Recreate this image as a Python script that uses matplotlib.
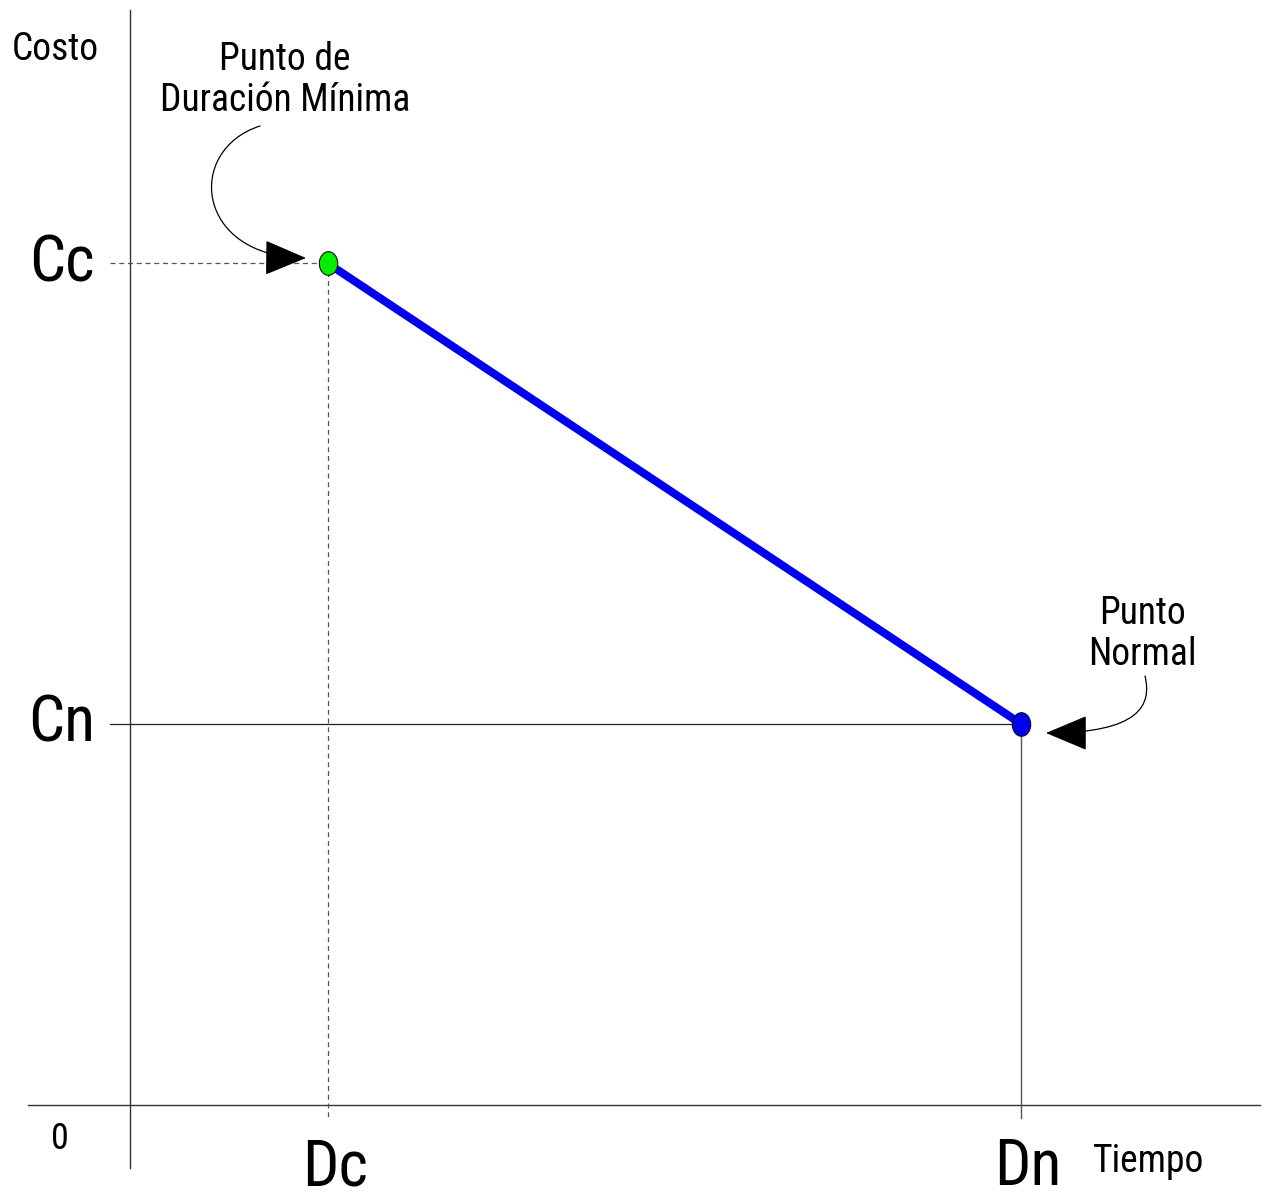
import matplotlib
matplotlib.use("Agg")
import matplotlib.pyplot as plt
from matplotlib.path import Path
from matplotlib.patches import FancyArrowPatch
from matplotlib.transforms import Affine2D

plt.rcParams['font.family'] = ['Arial Narrow', 'Liberation Sans Narrow', 'Arimo Narrow',
                               'Roboto Condensed', 'Archivo Narrow', 'Liberation Sans', 'DejaVu Sans']

# ---- data ----
point_names = ["Punto de\nDuración Mínima", "Punto\nNormal"]
durations = [2.0, 9.0]          # Dc, Dn
costs = [8.5, 3.85]             # Cc, Cn
x_tick_labels = ["Dc", "Dn"]
y_tick_labels = ["Cc", "Cn"]
point_colors = ["#00ee00", "#0000ee"]
line_color = "#0000ee"

W, H = 1264, 1196
U = 99.0  # pixels per data unit
X0, Y0 = 130, 1105  # origin in pixels

fig = plt.figure(figsize=(W / 100, H / 100), dpi=100)
ax = fig.add_axes([0, 0, 1, 1])
ax.set_xlim(-X0 / U, (W - X0) / U)
ax.set_ylim((Y0 - H) / U, Y0 / U)
ax.axis("off")

def px(x, y):
    """pixel (from top-left) -> data coords"""
    return ((x - X0) / U, (Y0 - y) / U)

# axes lines
ax.plot([px(28, 0)[0], px(1260, 0)[0]], [0, 0], color="#333333", lw=1.0)
ax.plot([0, 0], [px(0, 1168)[1], px(0, 10)[1]], color="#333333", lw=1.0)

Dc, Dn = durations
Cc, Cn = costs
xl = px(110, 0)[0]
yb = px(0, 1118)[1]
# dashed guides for crash point
ax.plot([xl, Dc], [Cc, Cc], color="#555555", lw=0.9, ls=(0, (4, 3)))
ax.plot([Dc, Dc], [Cc, yb], color="#555555", lw=0.9, ls=(0, (4, 3)))
# solid guides for normal point
ax.plot([xl, Dn], [Cn, Cn], color="#222222", lw=0.9)
ax.plot([Dn, Dn], [Cn, yb], color="#555555", lw=1.0)

# cost line
ax.plot(durations, costs, color=line_color, lw=5.8, solid_capstyle="butt", zorder=3)

ell = Path.unit_circle().transformed(Affine2D().scale(0.78, 1.0))
for x, y, c in zip(durations, costs, point_colors):
    ax.plot([x], [y], marker=ell, ms=17, mfc=c, mec="#111111", mew=0.8, zorder=4)

# tick-like labels
for x, lab in zip(durations, x_tick_labels):
    ax.text(x + 0.07, px(0, 1167)[1], lab, ha="center", va="center", fontsize=46)
for y, lab in zip(costs, y_tick_labels):
    ax.text(px(62, 0)[0], y, lab, ha="center", va="center", fontsize=46)
ax.text(*px(60, 1139), "0", ha="center", va="center", fontsize=26)
ax.text(*px(55, 49), "Costo", ha="center", va="center", fontsize=27)
ax.text(*px(1149, 1162), "Tiempo", ha="center", va="center", fontsize=27)

# annotations
ax.text(*px(285, 80), point_names[0], ha="center", va="center", fontsize=27, linespacing=1.15)
ax.text(*px(1142, 634), point_names[1], ha="center", va="center", fontsize=27, linespacing=1.15)

def curve(pts):
    verts = [px(*p) for p in pts]
    return Path(verts, [Path.MOVETO, Path.CURVE4, Path.CURVE4, Path.CURVE4])

style = "-|>,head_length=1.0,head_width=0.42"
a1 = FancyArrowPatch(path=curve([(260, 126), (185, 150), (195, 257), (306, 258)]),
                     arrowstyle=style, mutation_scale=27, color="black", lw=0.9, zorder=5)
a2 = FancyArrowPatch(path=curve([(1145, 676), (1152, 705), (1140, 733), (1046, 733)]),
                     arrowstyle=style, mutation_scale=27, color="black", lw=0.9, zorder=5)
ax.add_patch(a1)
ax.add_patch(a2)

fig.savefig("out.png", dpi=100, facecolor="white")
